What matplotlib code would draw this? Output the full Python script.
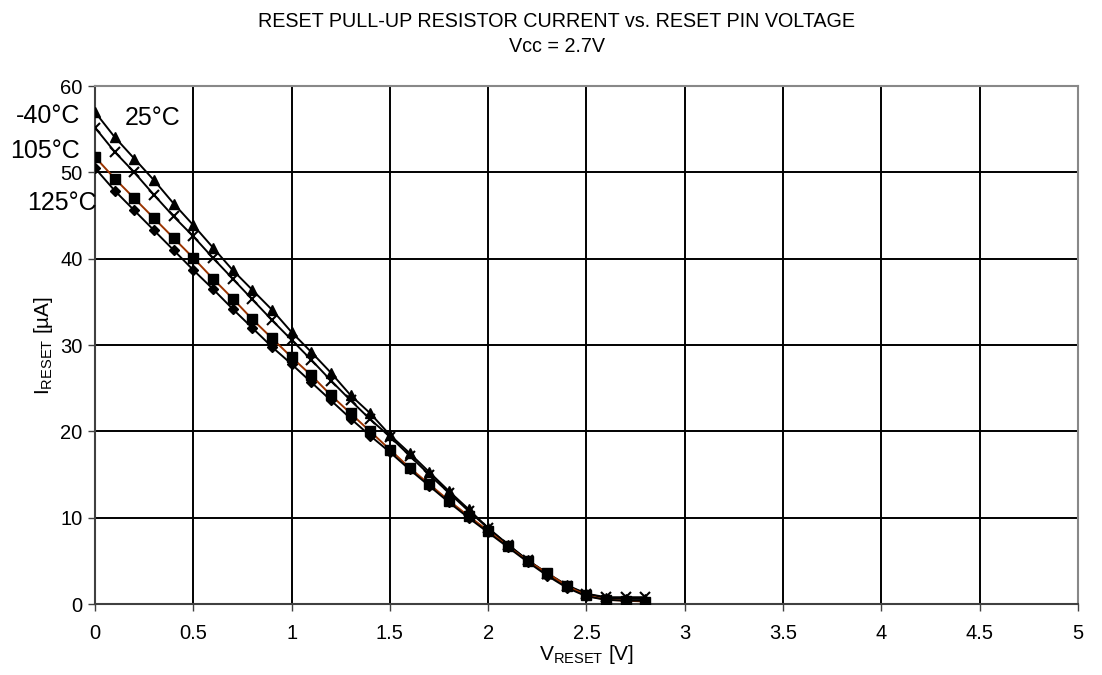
import numpy as np
import matplotlib.pyplot as plt

plt.rcParams['font.family'] = ['Liberation Sans', 'DejaVu Sans']
plt.rcParams['mathtext.fontset'] = 'custom'
plt.rcParams['mathtext.rm'] = 'Liberation Sans'
plt.rcParams['mathtext.it'] = 'Liberation Sans'

v_reset = [0.0, 0.1, 0.2, 0.3, 0.4, 0.5, 0.6, 0.7, 0.8, 0.9, 1.0, 1.1, 1.2, 1.3, 1.4,
           1.5, 1.6, 1.7, 1.8, 1.9, 2.0, 2.1, 2.2, 2.3, 2.4, 2.5, 2.6, 2.7, 2.8]

i_m40 = [57.0, 54.1, 51.6, 49.1, 46.4, 43.9, 41.3, 38.7, 36.4, 34.1, 31.5, 29.2, 26.8, 24.2, 22.1,
         19.6, 17.5, 15.3, 13.1, 11.0, 8.8, 6.9, 5.1, 3.6, 2.2, 1.2, 0.7, 0.6, 0.6]
i_25 = [55.2, 52.4, 50.0, 47.4, 44.9, 42.6, 40.1, 37.7, 35.3, 32.9, 30.6, 28.3, 25.9, 23.6, 21.4,
        19.4, 17.2, 15.0, 12.9, 10.8, 8.8, 6.9, 5.1, 3.5, 2.1, 1.2, 0.8, 0.8, 0.8]
i_105 = [51.8, 49.3, 47.0, 44.7, 42.4, 40.1, 37.7, 35.4, 33.0, 30.8, 28.6, 26.5, 24.2, 22.1, 20.0,
         17.9, 15.8, 13.9, 12.0, 10.2, 8.5, 6.7, 5.0, 3.6, 2.1, 1.0, 0.5, 0.4, 0.3]
i_125 = [50.5, 47.9, 45.6, 43.3, 41.0, 38.7, 36.5, 34.2, 32.0, 29.8, 27.8, 25.7, 23.6, 21.5, 19.5,
         17.6, 15.6, 13.7, 11.8, 10.0, 8.3, 6.6, 4.9, 3.3, 1.9, 0.9, 0.5, 0.4, 0.4]

fig = plt.figure(figsize=(11.02, 6.75), dpi=100)
ax = fig.add_axes([0.0862, 0.105, 0.8920, 0.7674])

# inner grid only, the frame edges stay grey
for x in np.arange(0.5, 5.0, 0.5):
  ax.axvline(x, color='black', lw=1.4, zorder=1)
for y in range(10, 60, 10):
  ax.axhline(y, color='black', lw=1.4, zorder=1)

ax.plot(v_reset, i_m40, color='black', lw=1.4, marker='^', ms=7, mfc='black', mec='black', zorder=3)
ax.plot(v_reset, i_25, color='black', lw=1.4, marker='x', ms=7, mew=1.5, mec='black', zorder=3)
ax.plot(v_reset, i_105, color='#993300', lw=1.4, marker='s', ms=7, mfc='black', mec='black', zorder=3)
ax.plot(v_reset, i_125, color='black', lw=1.4, marker='D', ms=5.5, mfc='black', mec='black', zorder=3)

ax.set_xlim(0, 5)
ax.set_ylim(0, 60)
ax.set_xticks(np.arange(0, 5.01, 0.5))
ax.set_xticklabels(['0', '0.5', '1', '1.5', '2', '2.5', '3', '3.5', '4', '4.5', '5'])
ax.set_yticks(range(0, 61, 10))
ax.tick_params(labelsize=14.5, length=5, width=1, color='#404040', direction='out')
ax.tick_params(axis='x', pad=9)
ax.tick_params(axis='y', pad=4)

for side in ['top', 'right']:
  ax.spines[side].set_color('#888888')
  ax.spines[side].set_linewidth(1.5)
for side in ['left', 'bottom']:
  ax.spines[side].set_color('#404040')
  ax.spines[side].set_linewidth(1.5)

ax.set_xlabel(r'$\mathrm{V_{RESET}}$ [V]', fontsize=15, labelpad=0)
ax.set_ylabel(r'$\mathrm{I_{RESET}}$ [µA]', fontsize=15, labelpad=4)

ax.text(-0.076, 56.5, '-40°C', fontsize=18, ha='right', va='center', clip_on=False)
ax.text(0.153, 56.3, '25°C', fontsize=18, ha='left', va='center', clip_on=False)
ax.text(-0.076, 52.5, '105°C', fontsize=18, ha='right', va='center', clip_on=False)
ax.text(0.01, 46.5, '125°C', fontsize=18, ha='right', va='center', clip_on=False)

fig.text(0.505, 0.968, 'RESET PULL-UP RESISTOR CURRENT vs. RESET PIN VOLTAGE', fontsize=14.2,
         ha='center', va='center')
fig.text(0.505, 0.931, 'Vcc = 2.7V', fontsize=14.2, ha='center', va='center')

fig.savefig('out.png', dpi=100)
